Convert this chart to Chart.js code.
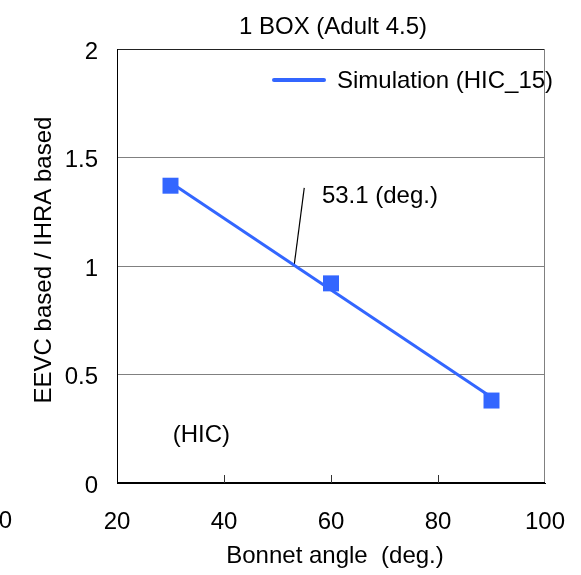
<!DOCTYPE html>
<html><head><meta charset="utf-8">
<script src="https://cdn.jsdelivr.net/npm/chart.js@4/dist/chart.umd.min.js"></script>
<style>html,body{margin:0;padding:0;background:#fff;overflow:hidden}#wrap{width:581px;height:575px;position:relative}</style>
</head><body><div id="wrap"><canvas id="c" width="581" height="575"></canvas></div>
<script>
const chartTitle = '1 BOX (Adult 4.5)';
const seriesLabel = 'Simulation (HIC_15)';
const xAxisTitle = 'Bonnet angle  (deg.)';
const yAxisTitle = 'EEVC based / IHRA based';
const bonnetAngle = [30, 60, 90];
const hicRatio = [1.37, 0.92, 0.38];
const trendAngle = [30, 90];
const trendRatio = [1.385, 0.395];
const crossAngleLabel = '53.1 (deg.)';
const leaderAngle = [53.1, 55.0];
const leaderRatio = [1.0, 1.36];
const metricLabel = '(HIC)';
const xTickValues = [20, 40, 60, 80, 100];
const yTickValues = [0, 0.5, 1, 1.5, 2];
const yTickLabels = ['0', '0.5', '1', '1.5', '2'];

const FONT = "'Liberation Sans', Arial, sans-serif";
const FS = 24;
const BLUE = '#3366FF';

const decor = {
  id: 'decor',
  afterDraw(chart) {
    const ctx = chart.ctx, a = chart.chartArea;
    const xs = chart.scales.x, ys = chart.scales.y;
    ctx.save();
    // frame
    ctx.lineWidth = 1;
    ctx.strokeStyle = '#222';
    ctx.beginPath(); ctx.moveTo(a.left, a.top + 0.5); ctx.lineTo(a.right, a.top + 0.5); ctx.stroke();
    ctx.strokeStyle = '#808080';
    ctx.beginPath(); ctx.moveTo(a.right - 0.5, a.top); ctx.lineTo(a.right - 0.5, a.bottom); ctx.stroke();
    ctx.strokeStyle = '#000';
    ctx.beginPath(); ctx.moveTo(a.left + 0.5, a.top); ctx.lineTo(a.left + 0.5, a.bottom); ctx.stroke();
    ctx.beginPath(); ctx.moveTo(a.left, a.bottom - 0.5); ctx.lineTo(a.right, a.bottom - 0.5); ctx.stroke();
    // inward x ticks
    ctx.strokeStyle = '#333';
    xTickValues.slice(1, -1).forEach(v => {
      const px = Math.round(xs.getPixelForValue(v)) + 0.5;
      ctx.beginPath(); ctx.moveTo(px, a.bottom); ctx.lineTo(px, a.bottom - 8); ctx.stroke();
    });
    // texts
    ctx.fillStyle = '#000';
    ctx.font = FS + 'px ' + FONT;
    ctx.textBaseline = 'alphabetic';
    ctx.textAlign = 'center';
    ctx.fillText(chartTitle, (a.left + a.right) / 2 + 2, 34);
    ctx.fillText(xAxisTitle, (a.left + a.right) / 2 + 4, 563);
    ctx.save();
    ctx.translate(51, (a.top + a.bottom) / 2 - 6);
    ctx.rotate(-Math.PI / 2);
    ctx.fillText(yAxisTitle, 0, 0);
    ctx.restore();
    // legend
    ctx.strokeStyle = BLUE; ctx.lineWidth = 4; ctx.lineCap = 'round';
    ctx.beginPath(); ctx.moveTo(274, 80); ctx.lineTo(324, 80); ctx.stroke();
    ctx.textAlign = 'left';
    ctx.fillText(chart.data.datasets[0].label, 337, 88);
    // notes
    ctx.fillText(crossAngleLabel, xs.getPixelForValue(58.3), ys.getPixelForValue(1.29));
    ctx.fillText(metricLabel, xs.getPixelForValue(30.4), ys.getPixelForValue(0.19));
    // clipped neighbour label
    ctx.textAlign = 'right';
    ctx.fillText('0', 12, 528);
    ctx.restore();
  }
};

new Chart(document.getElementById('c'), {
  type: 'scatter',
  data: {
    datasets: [
      { label: seriesLabel, data: trendAngle.map((x, i) => ({x, y: trendRatio[i]})),
        showLine: true, borderColor: BLUE, borderWidth: 3, pointRadius: 0, order: 2 },
      { label: 'points', data: bonnetAngle.map((x, i) => ({x, y: hicRatio[i]})),
        showLine: false, pointStyle: 'rect', pointRadius: 11.3, pointBorderWidth: 0,
        backgroundColor: BLUE, borderColor: BLUE, order: 1 },
      { label: 'leader', data: leaderAngle.map((x, i) => ({x, y: leaderRatio[i]})),
        showLine: true, borderColor: '#000', borderWidth: 1.2, pointRadius: 0, order: 3 }
    ]
  },
  options: {
    responsive: false,
    devicePixelRatio: 1,
    animation: false,
    layout: { padding: { left: 0, top: 49, right: 36, bottom: 0 } },
    plugins: { legend: { display: false }, title: { display: false }, tooltip: { enabled: false } },
    scales: {
      x: {
        type: 'linear', min: 20, max: 100,
        afterBuildTicks: s => { s.ticks = xTickValues.map(v => ({value: v})); },
        afterFit: s => { s.height = 92; s.paddingLeft = 0; s.paddingRight = 0; },
        grid: { display: false },
        border: { display: true, color: '#000' },
        ticks: { color: '#000', font: { family: FONT, size: FS }, padding: 17, maxRotation: 0 }
      },
      y: {
        type: 'linear', min: 0, max: 2,
        afterBuildTicks: s => { s.ticks = yTickValues.map(v => ({value: v})); },
        afterFit: s => { s.width = 117; s.paddingTop = 0; s.paddingBottom = 0; },
        grid: { color: '#808080', lineWidth: 1, drawTicks: false },
        border: { display: true, color: '#000' },
        ticks: { color: '#000', font: { family: FONT, size: FS }, padding: 19, labelOffset: 3,
          callback: (v, i) => yTickLabels[i] }
      }
    }
  },
  plugins: [decor]
});
</script></body></html>
